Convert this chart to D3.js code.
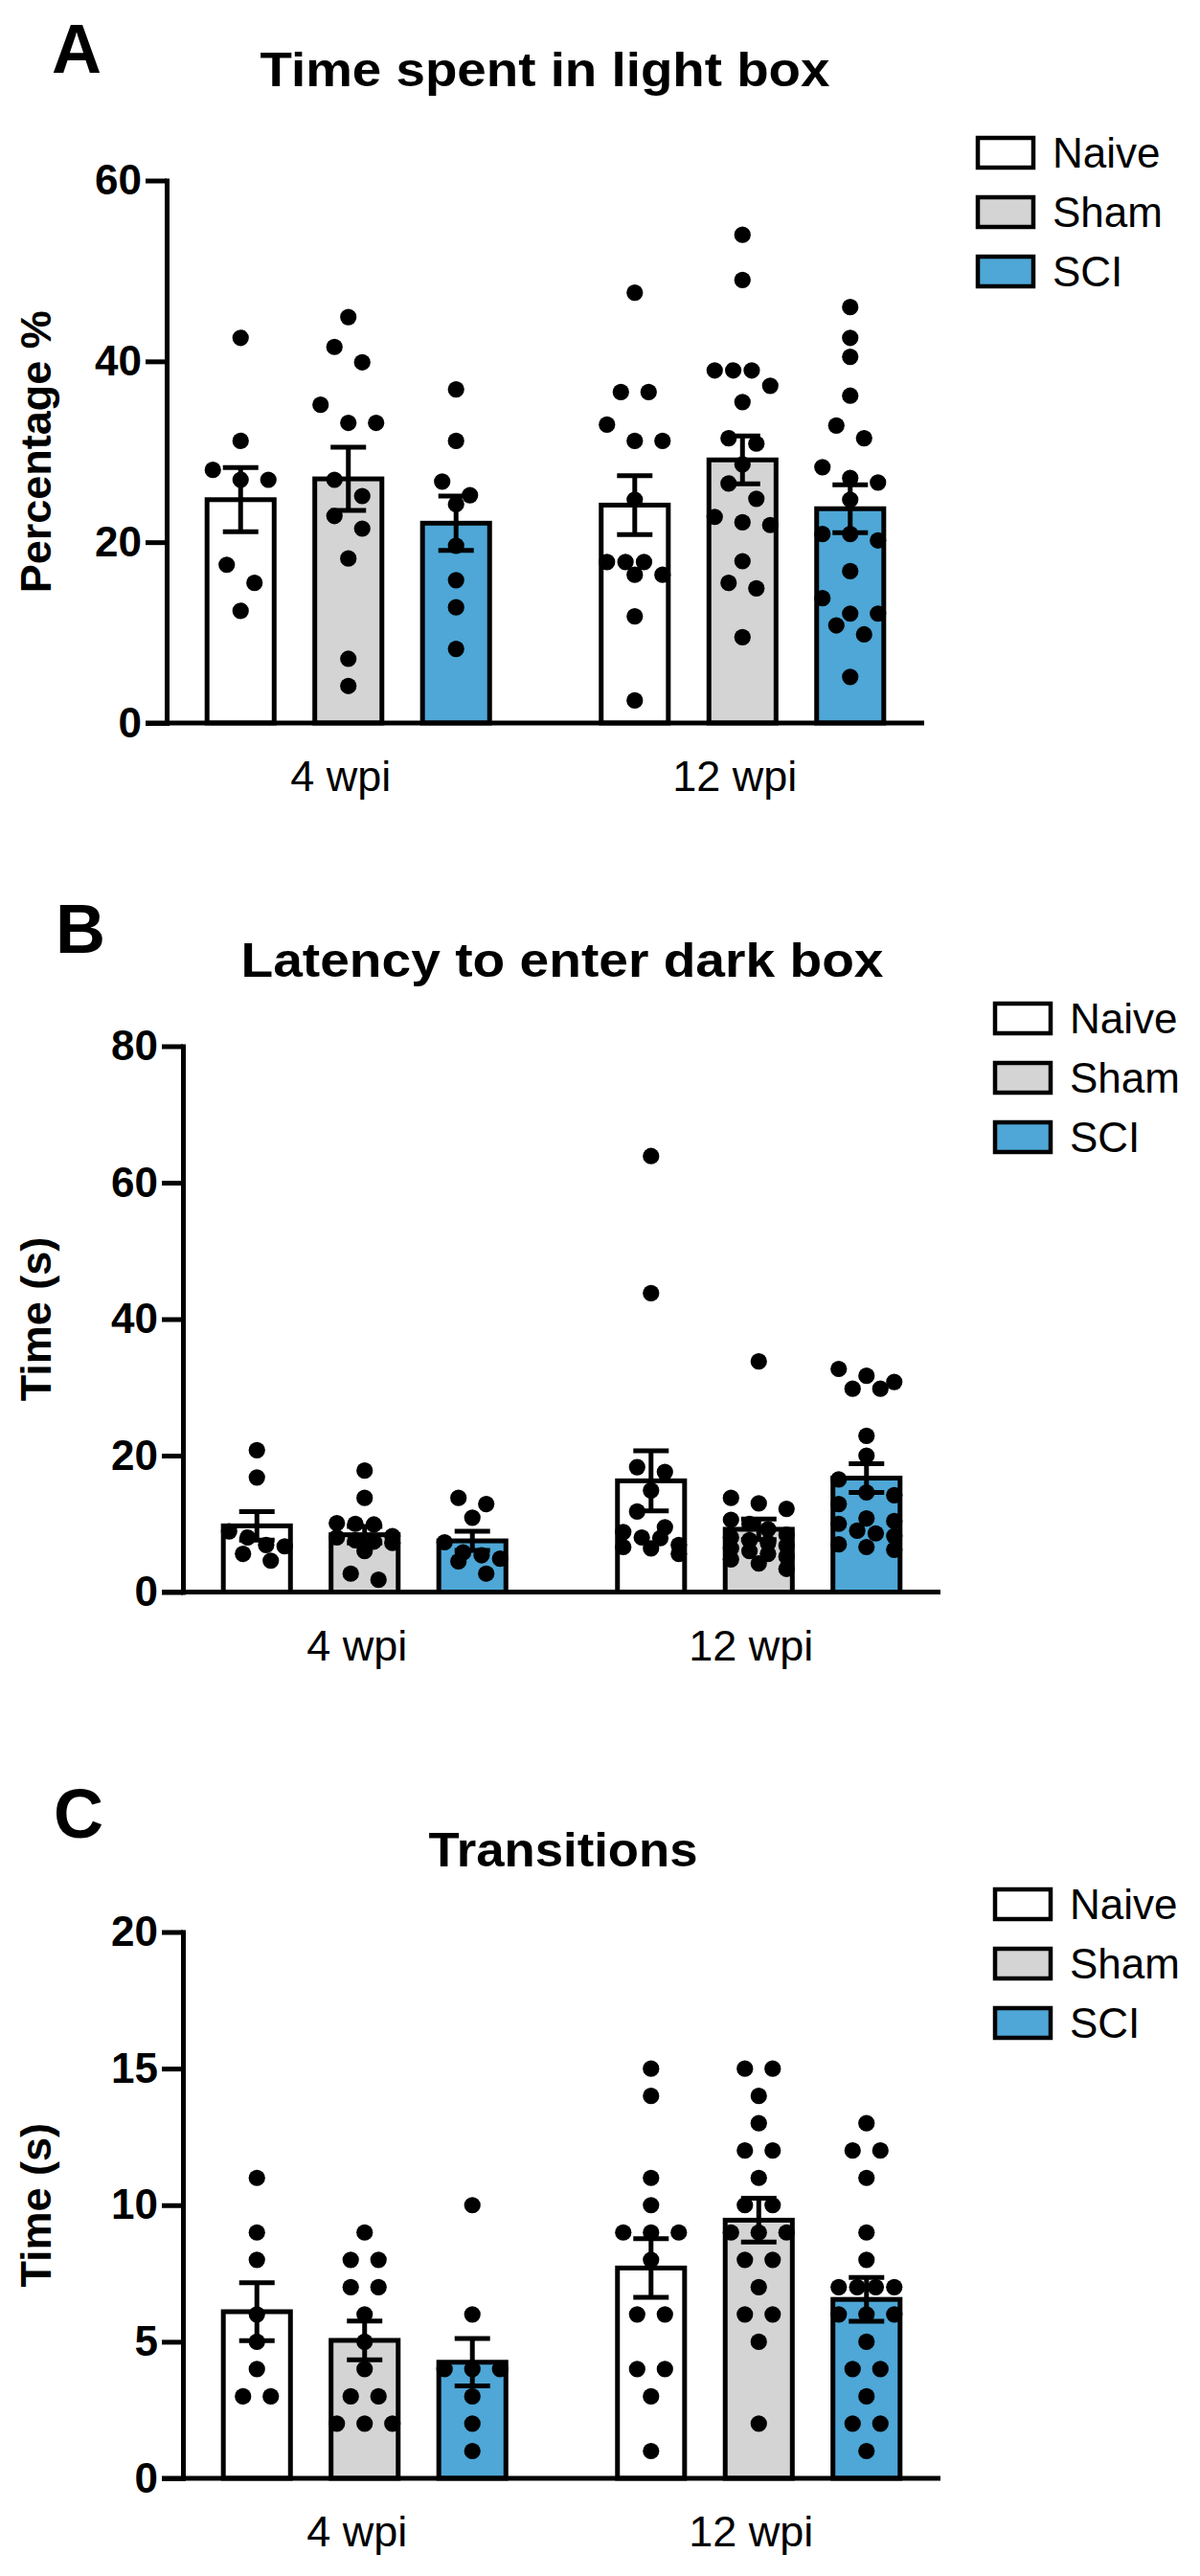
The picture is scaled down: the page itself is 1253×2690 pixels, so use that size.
<!DOCTYPE html>
<html><head><meta charset="utf-8">
<script src="https://cdn.jsdelivr.net/npm/d3@7"></script>
<style>body{margin:0;background:#fff} svg{display:block}</style>
</head><body>
<script>
// ---------- data ----------
const groups = ["4 wpi", "12 wpi"];
const series = ["Naive", "Sham", "SCI"];

// Panel A: Time spent in light box (order: 4wpi Naive, Sham, SCI, 12wpi Naive, Sham, SCI)
const lightTicks = [0, 20, 40, 60];
const lightMeans = [24.7, 27.0, 22.1, 24.1, 29.1, 23.7];
const lightSEM   = [3.55, 3.5, 3.0, 3.25, 2.65, 2.65];
const lightPoints = [
  [42.6, 31.2, 28.0, 26.9, 26.9, 17.5, 15.5, 12.4],
  [44.9, 41.6, 39.9, 35.2, 33.2, 33.2, 26.9, 25.1, 22.9, 21.5, 18.2, 7.1, 4.1],
  [36.9, 31.2, 26.7, 25.2, 24.2, 19.6, 15.8, 12.8, 8.2],
  [47.6, 36.6, 36.6, 33.0, 31.2, 31.2, 24.7, 17.8, 17.8, 17.8, 16.4, 16.4, 11.8, 2.5],
  [54.0, 49.0, 39.0, 39.0, 39.0, 37.3, 35.5, 31.5, 30.9, 28.6, 26.5, 24.8, 22.8, 22.2, 21.9, 17.9, 15.5, 14.9, 9.5],
  [46.0, 42.6, 40.5, 36.2, 32.9, 31.5, 28.3, 27.1, 26.6, 24.7, 20.9, 20.9, 20.2, 16.8, 13.8, 12.1, 12.1, 10.8, 9.8, 5.1]
];

// Panel B: Latency to enter dark box
const latencyTicks = [0, 20, 40, 60, 80];
const latencyMeans = [9.7, 8.4, 7.5, 16.3, 9.2, 16.7];
const latencySEM   = [2.1, 1.2, 1.4, 4.4, 1.5, 2.1];
const latencyPoints = [
  [20.8, 16.8, 8.9, 8.0, 6.9, 6.7, 5.6, 4.6],
  [17.8, 13.8, 10.1, 10.0, 9.9, 8.2, 8.0, 7.6, 7.4, 7.2, 6.0, 2.7, 1.8],
  [13.8, 12.9, 10.9, 7.3, 5.8, 5.4, 4.9, 4.5, 2.7],
  [63.9, 43.8, 18.3, 17.6, 14.9, 11.8, 9.5, 8.8, 8.0, 7.9, 6.9, 6.6, 6.4, 5.6],
  [33.8, 13.8, 13.0, 12.2, 10.6, 10.0, 9.2, 8.4, 8.0, 7.6, 7.2, 6.8, 6.4, 6.0, 5.6, 5.2, 4.8, 4.2, 3.4],
  [32.7, 31.7, 30.8, 29.8, 29.8, 22.9, 20.0, 16.5, 14.6, 14.2, 12.9, 10.8, 10.4, 10.0, 9.0, 8.6, 8.2, 7.0, 6.6, 6.2]
];

// Panel C: Transitions
const transTicks = [0, 5, 10, 15, 20];
const transMeans = [6.1, 5.05, 4.25, 7.7, 9.45, 6.55];
const transSEM   = [1.06, 0.71, 0.87, 1.07, 0.8, 0.8];
const transPoints = [
  [11, 9, 8, 6, 5, 4, 3, 3],
  [9, 8, 8, 7, 7, 6, 5, 4, 3, 3, 2, 2, 2],
  [10, 6, 4, 4, 4, 3, 2, 1],
  [15, 14, 11, 10, 9, 9, 9, 8, 6, 6, 4, 4, 3, 1],
  [15, 15, 14, 13, 12, 12, 11, 10, 10, 9, 9, 9, 8, 8, 7, 6, 6, 5, 2],
  [13, 12, 12, 11, 9, 8, 7, 7, 7, 7, 6, 6, 6, 5, 4, 4, 3, 2, 2, 1]
];

// ---------- styling / layout ----------
const W = 1253, H = 2690;
const FONT = "'Liberation Sans', Arial, Helvetica, sans-serif";
const fills = ["#ffffff", "#d4d4d4", "#4ea7d6"];
const LW = 5, TICK = 22, R = 8.6, CAP = 37;
const DOT_STEP = 29, DOT_MAXSPAN = 58, ROW_GAP = 19, ROW_MAX = 4;

const panels = [
  { letter: "A", title: "Time spent in light box", titleLen: 595, titleX: 569, titleY: 90,
    letterX: 54, letterY: 76, ylabel: "Percentage %",
    ticks: lightTicks, means: lightMeans, sem: lightSEM, points: lightPoints,
    axisX: 174, xEnd: 965, y0: 755, yTop: 188.5, legendX: 1021 },
  { letter: "B", title: "Latency to enter dark box", titleLen: 671, titleX: 587, titleY: 1020,
    letterX: 58, letterY: 995, ylabel: "Time (s)",
    ticks: latencyTicks, means: latencyMeans, sem: latencySEM, points: latencyPoints,
    axisX: 191, xEnd: 982, y0: 1662.5, yTop: 1092.5, legendX: 1039 },
  { letter: "C", title: "Transitions", titleLen: 281, titleX: 588, titleY: 1949,
    letterX: 56, letterY: 1919, ylabel: "Time (s)",
    ticks: transTicks, means: transMeans, sem: transSEM, points: transPoints,
    axisX: 191, xEnd: 982, y0: 2588, yTop: 2017.5, legendX: 1039 }
];

const svg = d3.select("body").append("svg")
  .attr("width", W).attr("height", H)
  .style("font-family", FONT);

// arrange dots of one column into horizontal rows (GraphPad-like scatter)
function scatterOffsets(vals, y) {
  const sorted = vals.map((v, i) => ({ v, i })).sort((a, b) => b.v - a.v);
  const rows = [];
  let cur = null;
  sorted.forEach(p => {
    if (cur && Math.abs(y(p.v) - y(cur[0].v)) < ROW_GAP && cur.length < ROW_MAX) cur.push(p);
    else { cur = [p]; rows.push(cur); }
  });
  const out = [];
  rows.forEach(row => {
    const n = row.length;
    const step = n > 1 ? Math.min(DOT_STEP, DOT_MAXSPAN / (n - 1)) : 0;
    row.forEach((p, k) => out.push({ v: p.v, dx: (k - (n - 1) / 2) * step }));
  });
  return out;
}

function drawPanel(c) {
  const g = svg.append("g");
  const yMax = c.ticks[c.ticks.length - 1];
  const y = d3.scaleLinear().domain([0, yMax]).range([c.y0, c.yTop]);
  const x0 = d3.scaleBand().domain(groups).range([c.axisX, c.xEnd])
    .paddingInner(0.18).paddingOuter(0.051);
  const x1 = d3.scaleBand().domain(series).range([0, x0.bandwidth()])
    .paddingInner(0.377).paddingOuter(0.1885);

  // panel letter & title
  g.append("text").attr("x", c.letterX).attr("y", c.letterY)
    .attr("font-size", 72).attr("font-weight", "bold").text(c.letter);
  g.append("text").attr("x", c.titleX).attr("y", c.titleY)
    .attr("text-anchor", "middle").attr("font-size", 50).attr("font-weight", "bold")
    .attr("textLength", c.titleLen).attr("lengthAdjust", "spacingAndGlyphs")
    .text(c.title);

  // y axis label
  g.append("text")
    .attr("transform", `translate(53,${(c.y0 + c.yTop) / 2}) rotate(-90)`)
    .attr("text-anchor", "middle").attr("font-size", 45).attr("font-weight", "bold")
    .text(c.ylabel);

  // data items
  const items = [];
  groups.forEach((gr, gi) => series.forEach((s, si) => {
    const k = gi * 3 + si;
    items.push({ gr, s, si, mean: c.means[k], sem: c.sem[k], pts: c.points[k],
      cx: x0(gr) + x1(s) + x1.bandwidth() / 2 });
  }));

  // bars
  g.selectAll("rect.bar").data(items).join("rect").attr("class", "bar")
    .attr("x", d => x0(d.gr) + x1(d.s))
    .attr("y", d => y(d.mean))
    .attr("width", x1.bandwidth())
    .attr("height", d => c.y0 - y(d.mean))
    .attr("fill", d => fills[d.si]).attr("stroke", "#000").attr("stroke-width", LW);

  // error bars
  const eb = g.selectAll("g.eb").data(items).join("g").attr("class", "eb")
    .attr("stroke", "#000").attr("stroke-width", LW);
  eb.append("line").attr("x1", d => d.cx).attr("x2", d => d.cx)
    .attr("y1", d => y(d.mean - d.sem)).attr("y2", d => y(d.mean + d.sem));
  eb.append("line").attr("x1", d => d.cx - CAP / 2).attr("x2", d => d.cx + CAP / 2)
    .attr("y1", d => y(d.mean + d.sem)).attr("y2", d => y(d.mean + d.sem));
  eb.append("line").attr("x1", d => d.cx - CAP / 2).attr("x2", d => d.cx + CAP / 2)
    .attr("y1", d => y(d.mean - d.sem)).attr("y2", d => y(d.mean - d.sem));

  // dots
  items.forEach(d => {
    const offs = scatterOffsets(d.pts, y);
    g.append("g").selectAll("circle").data(offs).join("circle")
      .attr("cx", p => d.cx + p.dx).attr("cy", p => y(p.v)).attr("r", R).attr("fill", "#000");
  });

  // y axis
  const ya = g.append("g").attr("transform", `translate(${c.axisX},0)`)
    .call(d3.axisLeft(y).tickValues(c.ticks).tickSize(TICK).tickSizeOuter(0).tickPadding(4)
      .tickFormat(d3.format("d")));
  ya.select(".domain").attr("stroke", "#000").attr("stroke-width", LW).attr("stroke-linecap", "square");
  ya.selectAll(".tick line").attr("stroke", "#000").attr("stroke-width", LW);
  ya.selectAll(".tick text").attr("font-size", 44).attr("font-weight", "bold")
    .attr("fill", "#000").attr("font-family", FONT);

  // x axis line
  g.append("line").attr("x1", c.axisX - TICK).attr("x2", c.xEnd)
    .attr("y1", c.y0).attr("y2", c.y0).attr("stroke", "#000").attr("stroke-width", LW);
  const xa = g.append("g").attr("transform", `translate(-8,${c.y0})`)
    .call(d3.axisBottom(x0).tickSize(0));
  xa.select(".domain").remove();
  xa.selectAll(".tick text").attr("y", 71).attr("dy", 0).attr("font-size", 45)
    .attr("fill", "#000").attr("font-family", FONT);

  // legend
  const lg = g.append("g");
  series.forEach((s, i) => {
    const cy = c.yTop - 29 + i * 62;
    lg.append("rect").attr("x", c.legendX).attr("y", cy - 15.5).attr("width", 58).attr("height", 31)
      .attr("fill", fills[i]).attr("stroke", "#000").attr("stroke-width", 4.5);
    lg.append("text").attr("x", c.legendX + 78).attr("y", cy + 15.5)
      .attr("font-size", 44).text(s);
  });
}

panels.forEach(drawPanel);
</script>
</body></html>
